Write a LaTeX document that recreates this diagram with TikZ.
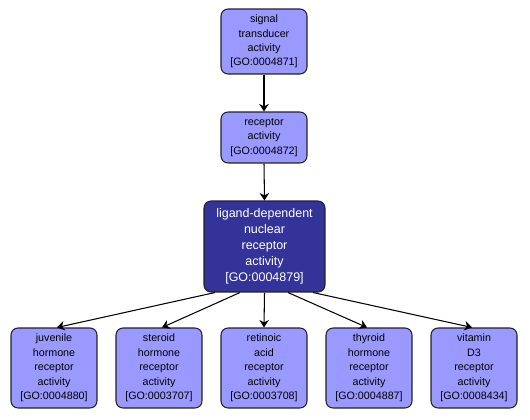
\documentclass[tikz,border=0pt]{standalone}
\usepackage{fontspec}
\setmainfont{Liberation Sans}
\usepackage{xcolor}
\usepackage{tikz}
\usetikzlibrary{arrows.meta,calc}
\definecolor{GoLight}{HTML}{9999FF}
\definecolor{GoDark}{HTML}{333399}
\definecolor{GoEdge}{HTML}{222222}

\begin{document}
\begin{tikzpicture}[x=0.02cm, y=-0.02cm,
  every node/.style={font=\fontsize{6.1pt}{8.2pt}\selectfont},
  gt/.style={rectangle, rounded corners=4pt, draw=GoEdge, fill=GoLight, line width=0.6pt,
             align=center, minimum width=1.72cm, inner sep=0pt},
  gm/.style={rectangle, rounded corners=4pt, draw=GoEdge, fill=GoDark, line width=0.6pt,
             text=white, align=center, minimum width=2.42cm, minimum height=1.82cm,
             inner sep=0pt, font=\fontsize{7.1pt}{9.1pt}\selectfont},
  leaf/.style={gt, minimum height=1.6cm},
  arr/.style={-{Stealth[length=0.15cm,width=0.19cm]}, line width=0.6pt, draw=black},
]
\useasboundingbox (0,0) rectangle (530,419);
\node[gt, minimum height=1.3cm]  (sigtrans) at (264, 41.5) {signal\\transducer\\activity\\{[GO:0004871]}};
\node[gt, minimum height=1.02cm] (receptor) at (264,137.5) {receptor\\activity\\{[GO:0004872]}};
\node[gm] (nucrec) at (264.5,246.5) {ligand-dependent\\nuclear\\receptor\\activity\\{[GO:0004879]}};
\node[leaf] (juvenile) at ( 54,368) {juvenile\\hormone\\receptor\\activity\\{[GO:0004880]}};
\node[leaf] (steroid)  at (159,368) {steroid\\hormone\\receptor\\activity\\{[GO:0003707]}};
\node[leaf] (retinoic) at (264,368) {retinoic\\acid\\receptor\\activity\\{[GO:0003708]}};
\node[leaf] (thyroid)  at (369,368) {thyroid\\hormone\\receptor\\activity\\{[GO:0004887]}};
\node[leaf] (vitamind) at (474,368) {vitamin\\D3\\receptor\\activity\\{[GO:0008434]}};
\draw[arr] (sigtrans.south) -- (receptor.north);
\draw[arr] (receptor.south) -- (nucrec.north);
\draw[arr] ($(nucrec.south)+(-49.5,0)$) -- ($(juvenile.north)+(3,0)$);
\draw[arr] ($(nucrec.south)+(-24.5,0)$) -- ($(steroid.north)+(3,0)$);
\draw[arr] (nucrec.south) -- (retinoic.north);
\draw[arr] ($(nucrec.south)+(23.5,0)$) -- ($(thyroid.north)+(-2,0)$);
\draw[arr] ($(nucrec.south)+(48.5,0)$) -- ($(vitamind.north)+(-2,0)$);
\end{tikzpicture}
\end{document}
